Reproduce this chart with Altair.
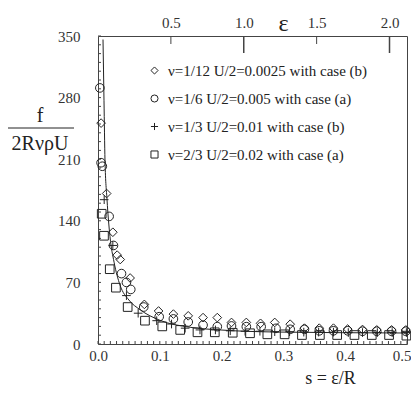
import altair as alt
import pandas as pd
import numpy as np

# ---------------- data ----------------
labels = [
    "ν=1/12 U/2=0.0025 with case (b)",
    "ν=1/6 U/2=0.005 with case (a)",
    "ν=1/3 U/2=0.01 with case (b)",
    "ν=2/3 U/2=0.02 with case (a)",
]

s_diamond = [0.005, 0.014, 0.024, 0.031, 0.036, 0.052, 0.075, 0.098, 0.122, 0.146, 0.170, 0.193,
             0.216, 0.240, 0.263, 0.286, 0.311, 0.334, 0.358, 0.381, 0.404, 0.428, 0.451, 0.475, 0.498]
v_diamond = [251, 171, 127, 101, 96, 75, 45, 37.5, 34, 32, 30, 30,
             24.5, 24.5, 23.5, 24.5, 22.5, 18, 18, 18, 17, 16.5, 16, 16, 16]

s_circle = [0.003, 0.005, 0.007, 0.018, 0.025, 0.038, 0.046, 0.053, 0.074, 0.099, 0.122, 0.146, 0.170,
            0.193, 0.216, 0.240, 0.264, 0.288, 0.311, 0.334, 0.358, 0.381, 0.404, 0.428, 0.451, 0.475, 0.498]
v_circle = [291, 206, 202, 145, 112, 80, 70, 62, 42, 31, 28.5, 25, 21.5,
            19.7, 20.5, 19.7, 19.7, 17.8, 16.7, 16.7, 15, 15, 15, 14.5, 14.5, 14.5, 14.5]

s_plus = [0.010, 0.024, 0.046, 0.065, 0.095, 0.119, 0.141, 0.165, 0.190, 0.214, 0.238, 0.262,
          0.286, 0.310, 0.333, 0.357, 0.381, 0.405, 0.428, 0.452, 0.476, 0.499]
v_plus = [164, 112, 55, 35, 26.5, 22.7, 18, 16, 16, 15, 14.5, 14.5,
          14, 14, 13.5, 13.5, 13.5, 13, 13, 13, 13, 13]

s_square = [0.006, 0.0097, 0.019, 0.029, 0.048, 0.076, 0.104, 0.133, 0.161, 0.189, 0.218,
            0.246, 0.274, 0.302, 0.330, 0.359, 0.387, 0.415, 0.443, 0.471, 0.499]
v_square = [148, 123, 85, 64, 42, 26.5, 20, 16, 13.3, 13.3, 12.8,
            12.2, 11, 11, 10.2, 10.2, 10.2, 10.2, 10.2, 10.2, 9.5]

s_curve = [0.0081, 0.0097, 0.0113, 0.0146, 0.0194, 0.026, 0.0356, 0.050, 0.068, 0.100,
           0.149, 0.197, 0.290, 0.500]
v_curve = [346, 277, 209, 164, 122, 93, 67, 50, 39, 27, 19, 16, 13.6, 12.5]

x_ticks = [0.0, 0.1, 0.2, 0.3, 0.4, 0.5]
y_ticks = [0, 70, 140, 210, 280, 350]
eps_short = [0.5, 1.5]
eps_long = [1.0, 2.0]
eps_max = 2.12

# ---------------- tables ----------------
frames = []
for lab, xs, ys in zip(labels, [s_diamond, s_circle, s_plus, s_square],
                       [v_diamond, v_circle, v_plus, v_square]):
    frames.append(pd.DataFrame({"s": xs, "v": ys, "series": lab}))
pts = pd.concat(frames, ignore_index=True)
curve = pd.DataFrame({"s": s_curve, "v": v_curve})

W, H = 309, 308
FONT = "Liberation Serif"
INK = "#222222"
plus_path = "M-1,0H1M0,-1V1"

xs_scale = alt.Scale(domain=[0, 0.5], nice=False, zero=True, padding=0)
y_scale = alt.Scale(domain=[0, 350], nice=False, padding=0)

x_axis = alt.Axis(values=x_ticks, format=".1f", ticks=False, tickSize=0, domain=False, grid=False,
                  labelFlush=False, labelOverlap=False,
                  labelAlign={"condition": {"test": "datum.value >= 0.49", "value": "right"},
                              "value": "center"},
                  labelOffset={"condition": {"test": "datum.value >= 0.49", "value": 4},
                               "value": 0},
                  labelPadding=4, labelFontSize=15, labelColor="#333", labelFont=FONT,
                  title="s = ε/R", titleFont=FONT, titleFontSize=18, titleFontWeight="normal",
                  titleColor=INK, titleX=232, titleY=34, titleAlign="center", titleBaseline="middle",
                  titleAnchor="start")
y_axis = alt.Axis(values=y_ticks, ticks=False, tickSize=0, domain=False, grid=False,
                  labelFlush=False, labelOverlap=False,
                  labelPadding=18, labelFontSize=15, labelColor="#333", labelFont=FONT, title=None)

points = alt.Chart(pts).mark_point(filled=False, strokeWidth=1, size=75, color=INK, opacity=1).encode(
    x=alt.X("s:Q", scale=xs_scale, axis=x_axis),
    y=alt.Y("v:Q", scale=y_scale, axis=y_axis),
    shape=alt.Shape("series:N",
                    scale=alt.Scale(domain=labels, range=["diamond", "circle", plus_path, "square"]),
                    legend=alt.Legend(orient="none", legendX=49, legendY=27, title=None,
                                      labelFont=FONT, labelFontSize=15, labelColor=INK,
                                      labelLimit=0,
                                      symbolSize=50, symbolStrokeWidth=1, symbolStrokeColor=INK,
                                      symbolFillColor="transparent", rowPadding=12, labelOffset=6,
                                      padding=0)),
)

line = alt.Chart(curve).mark_line(color=INK, strokeWidth=1, interpolate="monotone").encode(
    x=alt.X("s:Q", scale=xs_scale), y=alt.Y("v:Q", scale=y_scale))

bt = pd.DataFrame({"s": np.round(np.arange(0, 0.5001, 0.01), 2)})
bottom_ticks = alt.Chart(bt).mark_rule(color="#444", strokeWidth=1).encode(
    x=alt.X("s:Q", scale=xs_scale), y=alt.value(H), y2=alt.value(H - 3))

lt = pd.DataFrame({"v": np.arange(0, 351, 10)})
left_ticks = alt.Chart(lt).mark_rule(color="#444", strokeWidth=1).encode(
    y=alt.Y("v:Q", scale=y_scale), x=alt.value(0), x2=alt.value(3))

ann = pd.DataFrame({"a": [0]})
num = alt.Chart(ann).mark_text(text="f", font=FONT, fontSize=20, color=INK).encode(
    x=alt.value(-58), y=alt.value(80))
den = alt.Chart(ann).mark_text(text="2RνρU", font=FONT, fontSize=20, color=INK).encode(
    x=alt.value(-58), y=alt.value(108))
bar = alt.Chart(ann).mark_rule(color=INK, strokeWidth=1).encode(
    x=alt.value(-92), x2=alt.value(-24), y=alt.value(92))

main = alt.layer(left_ticks, bottom_ticks, line, points, num, den, bar)

eps_scale = alt.Scale(domain=[0, eps_max], nice=False, zero=True, padding=0)
top_axis = alt.Axis(orient="top", values=[0.5, 1.0, 1.5, 2.0], format=".1f", ticks=False, tickSize=0,
                    domain=False, grid=False, labelFlush=False, labelOverlap=False,
                    labelPadding=6, labelFontSize=15, labelColor="#333",
                    labelFont=FONT, title="ε", titleFont=FONT, titleFontSize=24,
                    titleFontWeight="normal", titleColor=INK, titleX=185, titleY=-13,
                    titleAlign="center", titleBaseline="middle", titleAnchor="start")
short = alt.Chart(pd.DataFrame({"eps": eps_short})).mark_rule(color="#444", strokeWidth=1).encode(
    x=alt.X("eps:Q", scale=eps_scale, axis=top_axis), y=alt.value(0), y2=alt.value(8))
long_ = alt.Chart(pd.DataFrame({"eps": eps_long})).mark_rule(color="#444", strokeWidth=1.5).encode(
    x=alt.X("eps:Q", scale=eps_scale), y=alt.value(0), y2=alt.value(17))
top = alt.layer(short, long_)

chart = alt.layer(main, top).resolve_scale(x="independent").properties(
    width=W, height=H,
    autosize=alt.AutoSizeParams(type="none"),
    padding={"left": 90, "top": 28, "right": 4, "bottom": 43},
    background="white",
).configure_view(stroke="#444", strokeWidth=1)

chart.save("out.html", embed_options={"renderer": "svg", "actions": False})
